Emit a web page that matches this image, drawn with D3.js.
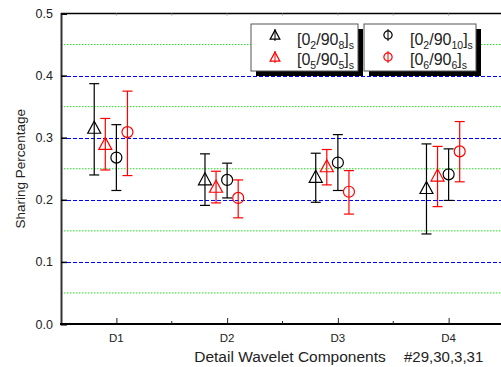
<!DOCTYPE html>
<html>
  <head>
    <meta charset="utf-8">
    <title>Sharing percentage</title>
    <script src="https://cdn.jsdelivr.net/npm/d3@7"></script>
    <style>
      body { margin: 0; background: #fff; }
      svg { display: block; font-family: "Liberation Sans", Arial, sans-serif; }
    </style>
  </head>
  <body>
    <svg id="chart" width="501" height="367"></svg>

    <script>
      // data
      categories = ["D1", "D2", "D3", "D4"];
      yTicks = [0.0, 0.1, 0.2, 0.3, 0.4, 0.5];
      minorTicks = [0.05, 0.15, 0.25, 0.35, 0.45];

      tri28Mean = [0.316, 0.233, 0.237, 0.219];
      tri28Upper = [0.387, 0.274, 0.275, 0.290];
      tri28Lower = [0.240, 0.191, 0.196, 0.145];

      tri55Mean = [0.290, 0.221, 0.254, 0.239];
      tri55Upper = [0.331, 0.246, 0.281, 0.286];
      tri55Lower = [0.248, 0.195, 0.224, 0.189];

      circ210Mean = [0.268, 0.232, 0.260, 0.241];
      circ210Upper = [0.321, 0.259, 0.305, 0.282];
      circ210Lower = [0.215, 0.203, 0.215, 0.199];

      circ66Mean = [0.309, 0.203, 0.213, 0.278];
      circ66Upper = [0.375, 0.232, 0.247, 0.326];
      circ66Lower = [0.239, 0.171, 0.177, 0.229];

      series = [
        { name: ["0", "2", "/90", "8"], color: "#000", shape: "tri", offset: -0.2, mean: tri28Mean, upper: tri28Upper, lower: tri28Lower },
        { name: ["0", "5", "/90", "5"], color: "#ff0000", shape: "tri", offset: -0.1, mean: tri55Mean, upper: tri55Upper, lower: tri55Lower },
        { name: ["0", "2", "/90", "10"], color: "#000", shape: "circ", offset: 0, mean: circ210Mean, upper: circ210Upper, lower: circ210Lower },
        { name: ["0", "6", "/90", "6"], color: "#ff0000", shape: "circ", offset: 0.1, mean: circ66Mean, upper: circ66Upper, lower: circ66Lower }
      ];

      // scales
      svg = d3.select("#chart");
      x = d3.scaleLinear().domain([0.5, 4.5]).range([61, 504]);
      y = d3.scaleLinear().domain([0, 0.5]).range([324, 13.5]);
      yPix = d => Math.round(y(d)) + 0.5;

      // grid lines
      svg.selectAll(".minor")
        .data(minorTicks)
        .join("line")
          .attr("x1", x(0.5)).attr("x2", 501)
          .attr("y1", d => y(d)).attr("y2", d => y(d))
          .style("stroke", "#22dd22")
          .style("stroke-width", 1)
          .style("stroke-dasharray", "1.5,1.5");
      svg.selectAll(".major")
        .data(yTicks.filter(d => d > 0 && d < 0.5))
        .join("line")
          .attr("x1", x(0.5)).attr("x2", 501)
          .attr("y1", yPix).attr("y2", yPix)
          .style("stroke", "#0000ff")
          .style("stroke-width", 1)
          .style("stroke-dasharray", "4,2");

      // frame
      svg.append("line")
        .attr("x1", x(0.5)).attr("x2", 501)
        .attr("y1", y(0.5)).attr("y2", y(0.5))
        .style("stroke", "#000").style("stroke-width", 1.5);

      // top ticks
      svg.selectAll(".toptick")
        .data(d3.range(1, 4.5, 0.5))
        .join("line")
          .attr("x1", d => x(d)).attr("x2", d => x(d))
          .attr("y1", y(0.5)).attr("y2", y(0.5) + 2)
          .style("stroke", "#999");

      // y axis
      yAxis = svg.append("g")
        .attr("transform", "translate(" + x(0.5) + ",0)")
        .call(d3.axisRight(y).tickValues(yTicks).tickSize(6).tickFormat(""));
      yAxis.select(".domain").style("stroke", "#333").style("stroke-width", 2);
      yAxis.selectAll(".tick line").style("stroke", "#000").style("stroke-width", 1.5);
      svg.selectAll(".ylab")
        .data(yTicks)
        .join("text")
          .attr("x", 53)
          .attr("y", d => y(d) + 4.5)
          .attr("text-anchor", "end")
          .style("font-size", "12.5px")
          .style("fill", "#222")
          .text(d => d.toFixed(1));

      // x axis
      xAxis = svg.append("g")
        .attr("transform", "translate(0," + y(0) + ")")
        .call(d3.axisTop(x).tickValues([1, 2, 3, 4]).tickSize(6).tickFormat(""));
      xAxis.select(".domain").remove();
      xAxis.selectAll(".tick line").style("stroke", "#222");
      svg.append("line")
        .attr("x1", x(0.5) - 1).attr("x2", 501)
        .attr("y1", y(0)).attr("y2", y(0))
        .style("stroke", "#000").style("stroke-width", 2);
      svg.selectAll(".xminor")
        .data([1.5, 2.5, 3.5])
        .join("line")
          .attr("x1", d => x(d)).attr("x2", d => x(d))
          .attr("y1", y(0)).attr("y2", y(0) - 3)
          .style("stroke", "#222");
      svg.selectAll(".xlab")
        .data(categories)
        .join("text")
          .attr("x", (d, i) => x(i + 1))
          .attr("y", 342)
          .attr("text-anchor", "middle")
          .style("font-size", "11.5px")
          .style("fill", "#222")
          .text(d => d);

      // axis titles
      svg.append("text")
        .attr("x", 290).attr("y", 361.5)
        .attr("text-anchor", "middle")
        .style("font-size", "15.5px")
        .style("fill", "#222")
        .text("Detail Wavelet Components");
      svg.append("text")
        .attr("x", 404).attr("y", 361.5)
        .style("font-size", "15px")
        .style("fill", "#222")
        .text("#29,30,3,31");
      svg.append("text")
        .attr("transform", "translate(25," + (y(0.25)) + ") rotate(-90)")
        .attr("text-anchor", "middle")
        .style("font-size", "13.5px")
        .style("fill", "#222")
        .text("Sharing Percentage");

      // marker drawing
      function marker(g, shape, color, s) {
        if (shape == "tri") {
          g.append("path")
            .attr("d", "M0," + (-6.5 * s) + "L" + (6.5 * s) + "," + (5.5 * s) + "L" + (-6.5 * s) + "," + (5.5 * s) + "Z")
            .style("fill", "none").style("stroke", color).style("stroke-width", 1.2);
        } else {
          g.append("circle")
            .attr("r", 5.5 * s)
            .style("fill", "none").style("stroke", color).style("stroke-width", 1.2);
        }
      }

      // error bars and points
      series.forEach(function(s) {
        let g = svg.append("g");
        s.mean.forEach(function(m, i) {
          let cx = x(i + 1 + s.offset);
          g.append("line")
            .attr("x1", cx).attr("x2", cx)
            .attr("y1", y(s.lower[i])).attr("y2", y(s.upper[i]))
            .style("stroke", s.color).style("stroke-width", 1.2);
          [s.lower[i], s.upper[i]].forEach(function(v) {
            g.append("line")
              .attr("x1", cx - 5).attr("x2", cx + 5)
              .attr("y1", y(v)).attr("y2", y(v))
              .style("stroke", s.color).style("stroke-width", 1.2);
          });
          let p = g.append("g").attr("transform", "translate(" + cx + "," + y(m) + ")");
          marker(p, s.shape, s.color, 1);
        });
      });

      // legend
      legendBoxes = [
        { x: 251, w: 107, items: [series[0], series[1]] },
        { x: 364, w: 112, items: [series[2], series[3]] }
      ];
      legendBoxes.forEach(function(b) {
        svg.append("rect")
          .attr("x", b.x + 5).attr("y", 29)
          .attr("width", b.w).attr("height", 47)
          .style("fill", "#000");
        svg.append("rect")
          .attr("x", b.x).attr("y", 24)
          .attr("width", b.w).attr("height", 47)
          .style("fill", "#fff").style("stroke", "#555").style("stroke-width", 1);
        b.items.forEach(function(s, j) {
          let cy = 35 + j * 22;
          let mx = b.x + 24;
          svg.append("line")
            .attr("x1", mx).attr("x2", mx)
            .attr("y1", cy - 6).attr("y2", cy + 6)
            .style("stroke", s.color).style("stroke-width", 1);
          let p = svg.append("g").attr("transform", "translate(" + mx + "," + cy + ")");
          marker(p, s.shape, s.color, 0.75);
          let t = svg.append("text")
            .attr("x", b.x + 46).attr("y", 45 + j * 20)
            .style("font-size", "16px")
            .style("fill", "#222");
          t.append("tspan").text("[" + s.name[0]);
          t.append("tspan").attr("dy", 4).style("font-size", "10.5px").text(s.name[1]);
          t.append("tspan").attr("dy", -4).text(s.name[2]);
          t.append("tspan").attr("dy", 4).style("font-size", "10.5px").text(s.name[3]);
          t.append("tspan").attr("dy", -4).text("]");
          t.append("tspan").attr("dy", 4).style("font-size", "10.5px").text("s");
        });
      });
    </script>
  </body>
</html>
